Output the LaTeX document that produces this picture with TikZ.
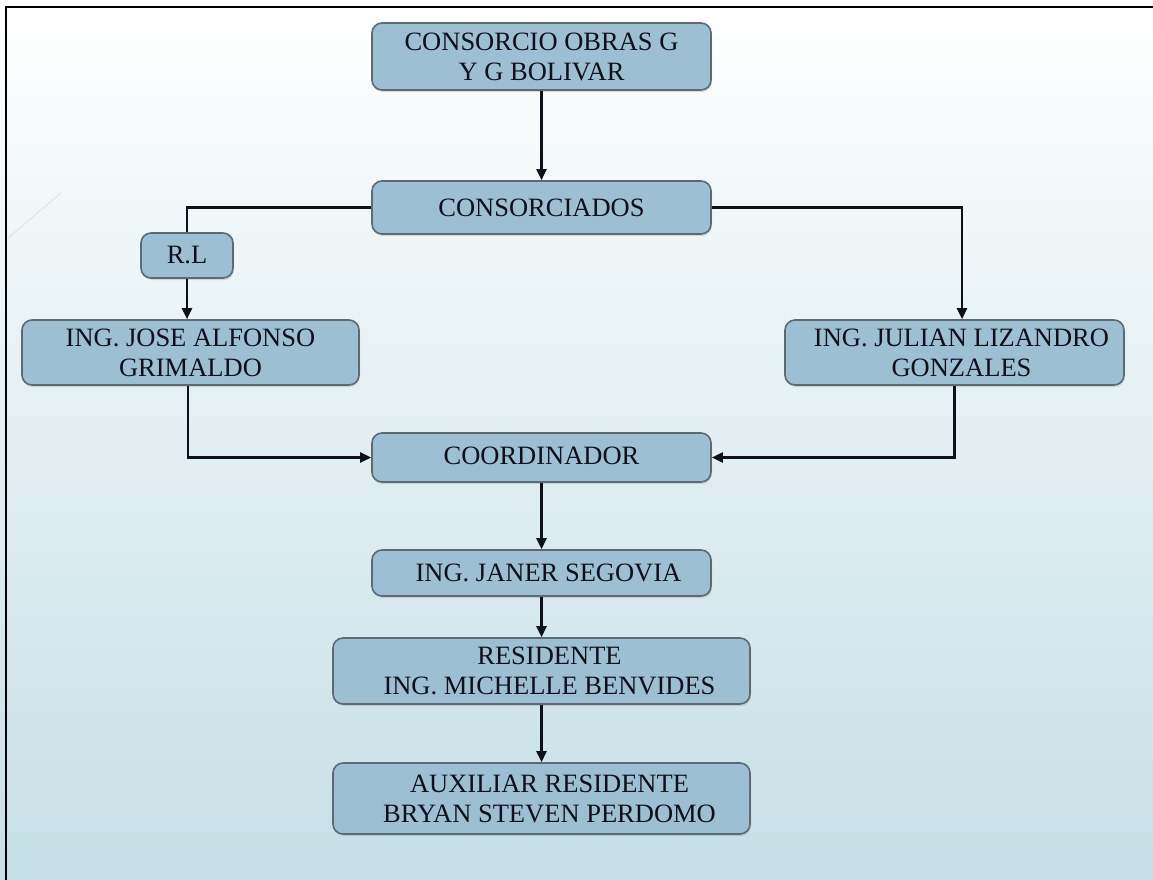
\documentclass[tikz,border=0pt]{standalone}
\usepackage{fontspec}
\setmainfont{Liberation Serif}
\usetikzlibrary{arrows.meta,shadows}
\definecolor{bgbottom}{HTML}{C5DFE6}
\definecolor{boxfill}{HTML}{9DBFD4}
\definecolor{boxline}{HTML}{5E6A72}
\definecolor{ink}{HTML}{10101A}
\tikzset{
  orgbox/.style={draw=boxline, line width=1.6pt, fill=boxfill, rounded corners=10pt,
    inner sep=0pt, align=center, text=ink,
    font=\fontsize{26.5}{30}\selectfont,
    drop shadow={opacity=0.25, shadow xshift=1pt, shadow yshift=-2pt}},
  conn/.style={draw=ink, line width=2.4pt},
  arr/.style={conn, -{Triangle[length=11pt,width=10pt]}}
}
\begin{document}
\begin{tikzpicture}[x=1pt,y=-1pt]
\useasboundingbox (0,0) rectangle (1153,879);
\fill[bgbottom!40] (-10,-10) rectangle (1170,890);
\shade[top color=white, bottom color=bgbottom] (-10,-3) rectangle (1170,885);
\draw[line width=2.5pt] (6,885) -- (6,7) -- (1170,7);
\draw[gray!25, line width=0.8pt] (8,238) -- (61,193);

\node[orgbox, minimum width=339pt, minimum height=67pt] (top) at (541.5,56.5) {CONSORCIO OBRAS G\\Y G BOLIVAR};
\node[orgbox, minimum width=339pt, minimum height=53pt] (cons) at (541.5,207.5) {CONSORCIADOS};
\node[orgbox, minimum width=92pt, minimum height=45pt] (rl) at (187,255.5) {R.L};
\node[orgbox, minimum width=337pt, minimum height=65pt] (jose) at (190.5,352.5) {ING. JOSE ALFONSO\\GRIMALDO};
\node[orgbox, minimum width=339pt, minimum height=65pt] (julian) at (954.5,352.5) {\hspace*{14pt}ING. JULIAN LIZANDRO\\\hspace*{14pt}GONZALES};
\node[orgbox, minimum width=339pt, minimum height=49pt] (coord) at (541.5,457.5) {\raisebox{4pt}{COORDINADOR}};
\node[orgbox, minimum width=339pt, minimum height=46pt] (janer) at (541.5,573) {\hspace*{14pt}ING. JANER SEGOVIA};
\node[orgbox, minimum width=417pt, minimum height=66pt] (res) at (541.5,671) {\hspace*{16pt}RESIDENTE\\\hspace*{16pt}ING. MICHELLE BENVIDES};
\node[orgbox, minimum width=417pt, minimum height=71pt] (aux) at (541.5,798.5) {\hspace*{16pt}AUXILIAR RESIDENTE\\\hspace*{16pt}BRYAN STEVEN PERDOMO};

\draw[arr] (top) -- (cons);
\draw[conn] (cons.west) -| (rl.north);
\draw[arr] (rl.south) -- (rl.south |- jose.north);
\draw[arr] (cons.east) -| ([xshift=7.5pt]julian.north);
\draw[arr] ([xshift=-2.5pt]jose.south) |- (coord.west);
\draw[arr] (julian.south) |- (coord.east);
\draw[arr] (coord) -- (janer);
\draw[arr] (janer) -- (res);
\draw[arr] (res) -- (aux);
\end{tikzpicture}
\end{document}
